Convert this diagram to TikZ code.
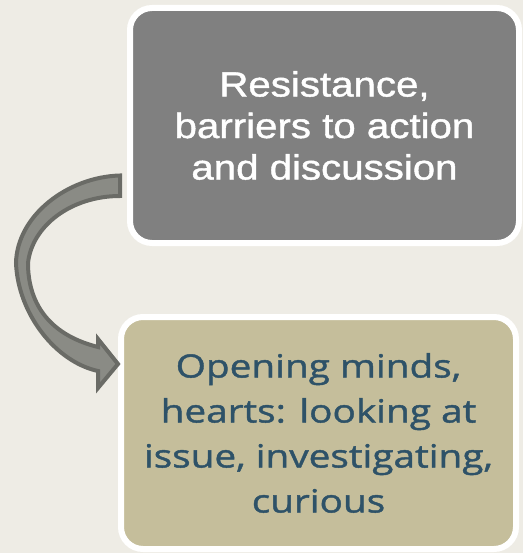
\documentclass[tikz,border=0pt]{standalone}
\usepackage{fontspec}
\usepackage{tikz}
\usetikzlibrary{positioning,calc}
\newfontfamily\resfont[FakeStretch=1.15,FakeBold=1.2]{Liberation Sans}
\newfontfamily\openfont[FakeStretch=1.21,FakeBold=1.3]{Open Sans}
\definecolor{bgbeige}{RGB}{238,236,229}
\definecolor{boxgray}{RGB}{128,128,128}
\definecolor{boxkhaki}{RGB}{197,190,155}
\definecolor{txtslate}{RGB}{46,82,104}
\definecolor{arrfill}{RGB}{138,139,133}
\definecolor{arrline}{RGB}{106,107,102}

\begin{document}
\begin{tikzpicture}[
        x=1pt, y=-1pt,
        card/.style={draw=white, line width=6pt, rounded corners=22pt, align=center, inner sep=0pt},
        resbox/.style={card, fill=boxgray, text=white, minimum width=389pt, minimum height=235pt, font=\resfont\fontsize{35}{41.5}\selectfont},
        openbox/.style={card, fill=boxkhaki, text=txtslate, minimum width=395pt, minimum height=232pt, font=\openfont\fontsize{32}{45}\selectfont},
        bendarr/.style={fill=arrfill, draw=arrline, line width=4pt, miter limit=4}
    ]
        % Page
        \fill[bgbeige] (0,0) rectangle (523,553);
        \useasboundingbox (0,0) rectangle (523,553);

        % Boxes
        \node[resbox] (bResist) at (324.5,125.5) {Resistance,\\barriers to action\\and discussion};
        \node[openbox] (bOpen) at (318.5,433) {Opening minds,\\hearts: looking at\\issue, investigating,\\curious};

        % Curved arrow from top box to bottom box
        \coordinate (aFrom) at ($(bResist.west)+(-7,50)$);
        \coordinate (aTip) at ($(bOpen.west)+(0,-69)$);
        \draw[bendarr] (aFrom) .. controls (67,177) and (17,216) .. (16,263)
            .. controls (18,314) and (56,362) .. (98,371)
            -- (98,388) -- (aTip) -- (98,339) -- (98,347)
            .. controls (46,334) and (28,300) .. (28,263)
            .. controls (32,226) and (71,196) .. (aFrom |- 0,196) -- cycle;
    \end{tikzpicture}
\end{document}
